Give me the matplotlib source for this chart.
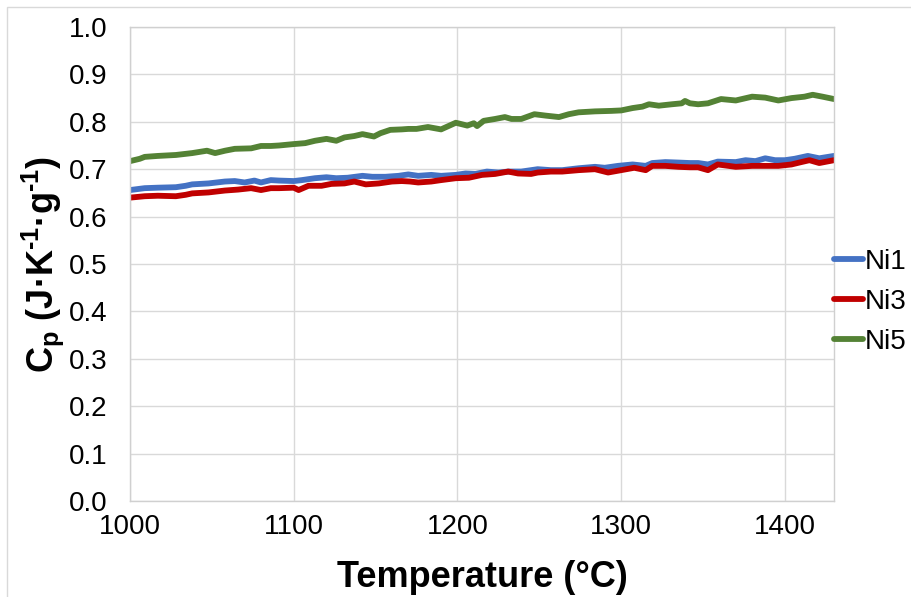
import matplotlib
matplotlib.use("Agg")
import matplotlib.pyplot as plt
from matplotlib.patches import Rectangle

plt.rcParams['font.family'] = ['Liberation Sans', 'DejaVu Sans']
plt.rcParams['mathtext.fontset'] = 'custom'
plt.rcParams['mathtext.rm'] = 'Liberation Sans'
plt.rcParams['mathtext.bf'] = 'Liberation Sans:bold'
plt.rcParams['mathtext.it'] = 'Liberation Sans:italic'

# ---- data ----
t_ni1 = [1000, 1009, 1017, 1028, 1034, 1038, 1048, 1058, 1064, 1070, 1076, 1080, 1086,
         1091, 1100, 1105, 1113, 1120, 1126, 1133, 1142, 1148, 1156, 1164, 1170, 1176,
         1184, 1190, 1199, 1205, 1211, 1218, 1225, 1231, 1239, 1249, 1257, 1264, 1274,
         1284, 1290, 1298, 1307, 1315, 1319, 1327, 1335, 1342, 1347, 1353, 1359, 1370,
         1376, 1382, 1388, 1394, 1400, 1406, 1414, 1421, 1430]
cp_ni1 = [0.656, 0.660, 0.661, 0.662, 0.665, 0.668, 0.670, 0.674, 0.675, 0.672, 0.676, 0.672, 0.677,
          0.676, 0.675, 0.677, 0.681, 0.683, 0.681, 0.682, 0.686, 0.684, 0.684, 0.686, 0.689, 0.686,
          0.688, 0.686, 0.688, 0.691, 0.690, 0.695, 0.693, 0.695, 0.695, 0.700, 0.698, 0.698, 0.702,
          0.705, 0.703, 0.707, 0.710, 0.707, 0.713, 0.715, 0.714, 0.713, 0.713, 0.710, 0.716, 0.715,
          0.719, 0.717, 0.723, 0.719, 0.719, 0.722, 0.728, 0.723, 0.728]

t_ni3 = [1000, 1009, 1017, 1028, 1034, 1038, 1048, 1058, 1066, 1074, 1080, 1086, 1091,
         1100, 1103, 1109, 1117, 1123, 1131, 1137, 1144, 1152, 1160, 1166, 1171, 1176,
         1184, 1190, 1199, 1207, 1215, 1223, 1231, 1237, 1245, 1249, 1257, 1264, 1274,
         1284, 1292, 1300, 1308, 1315, 1319, 1327, 1335, 1342, 1347, 1353, 1359, 1370,
         1380, 1388, 1396, 1404, 1410, 1415, 1421, 1430]
cp_ni3 = [0.640, 0.643, 0.644, 0.643, 0.646, 0.649, 0.651, 0.655, 0.657, 0.660, 0.656, 0.660, 0.660,
          0.661, 0.656, 0.665, 0.665, 0.669, 0.670, 0.674, 0.668, 0.670, 0.674, 0.675, 0.674, 0.672,
          0.674, 0.677, 0.681, 0.682, 0.688, 0.690, 0.695, 0.691, 0.690, 0.693, 0.695, 0.695, 0.698,
          0.700, 0.693, 0.698, 0.703, 0.698, 0.707, 0.707, 0.705, 0.704, 0.704, 0.698, 0.710, 0.705,
          0.707, 0.707, 0.707, 0.710, 0.715, 0.719, 0.713, 0.719]

t_ni5 = [1000, 1006, 1009, 1017, 1028, 1038, 1047, 1052, 1058, 1064, 1074, 1080, 1086,
         1091, 1100, 1107, 1113, 1120, 1126, 1131, 1137, 1142, 1149, 1153, 1159, 1166,
         1170, 1175, 1182, 1190, 1199, 1206, 1210, 1212, 1216, 1223, 1229, 1233, 1239,
         1247, 1254, 1262, 1268, 1274, 1284, 1294, 1300, 1307, 1313, 1317, 1323, 1331,
         1337, 1339, 1342, 1347, 1353, 1361, 1370, 1380, 1388, 1396, 1404, 1412, 1417,
         1423, 1430]
cp_ni5 = [0.717, 0.722, 0.726, 0.728, 0.730, 0.734, 0.739, 0.734, 0.739, 0.743, 0.744, 0.749, 0.749,
          0.750, 0.753, 0.755, 0.760, 0.764, 0.760, 0.767, 0.770, 0.774, 0.769, 0.776, 0.783, 0.784,
          0.785, 0.785, 0.789, 0.784, 0.798, 0.792, 0.797, 0.791, 0.802, 0.806, 0.810, 0.806, 0.806,
          0.816, 0.813, 0.810, 0.816, 0.820, 0.822, 0.823, 0.824, 0.829, 0.832, 0.837, 0.834, 0.837,
          0.839, 0.844, 0.839, 0.837, 0.839, 0.848, 0.845, 0.853, 0.851, 0.845, 0.850, 0.853, 0.857,
          0.853, 0.848]

series_labels = ['Ni1', 'Ni3', 'Ni5']
series_colors = ['#4472C4', '#C00000', '#548235']
x_ticks = [1000, 1100, 1200, 1300, 1400]
y_ticks = [0.0, 0.1, 0.2, 0.3, 0.4, 0.5, 0.6, 0.7, 0.8, 0.9, 1.0]

# ---- figure ----
fig = plt.figure(figsize=(9.12, 5.97), dpi=100)
fig.patches.append(Rectangle((7 / 912, -0.05), 1.2, (597 - 7) / 597 + 0.05,
                             transform=fig.transFigure, fill=False,
                             edgecolor='#D9D9D9', linewidth=1.0))

ax = fig.add_axes([130 / 912, (597 - 501) / 597, (834 - 130) / 912, (501 - 27) / 597])

for t, cp, lab, col in zip([t_ni1, t_ni3, t_ni5], [cp_ni1, cp_ni3, cp_ni5],
                           series_labels, series_colors):
    ax.plot(t, cp, color=col, linewidth=4.2, label=lab, solid_capstyle='round',
            solid_joinstyle='round')

ax.set_xlim(1000, 1430)
ax.set_ylim(0.0, 1.0)
ax.set_xticks(x_ticks)
ax.set_xticklabels([str(v) for v in x_ticks])
ax.set_yticks(y_ticks)
ax.set_yticklabels([f'{v:.1f}' for v in y_ticks])
ax.grid(True, color='#D9D9D9', linewidth=1.0)
ax.set_axisbelow(True)
for s in ax.spines.values():
    s.set_color('#D0D0D0')
    s.set_linewidth(1.0)
ax.tick_params(axis='both', length=0, labelsize=20, colors='black')
ax.tick_params(axis='x', pad=9)
ax.tick_params(axis='y', pad=16)

ax.set_xlabel('Temperature (°C)', fontsize=26, fontweight='bold', labelpad=15)
ax.set_ylabel('$\\mathbf{C_p\\ (J{·}K^{\u20101}{·}g^{\u20101})}$', fontsize=26, labelpad=2)

leg = ax.legend(loc='center left', bbox_to_anchor=(834 / 912, (597 - 302) / 597),
                bbox_transform=fig.transFigure, frameon=False, fontsize=20,
                handlelength=1.05, handletextpad=0.05, labelspacing=0.5,
                borderaxespad=0, borderpad=0)
for line in leg.get_lines():
    line.set_linewidth(4.2)

fig.savefig('out.png', dpi=100)
